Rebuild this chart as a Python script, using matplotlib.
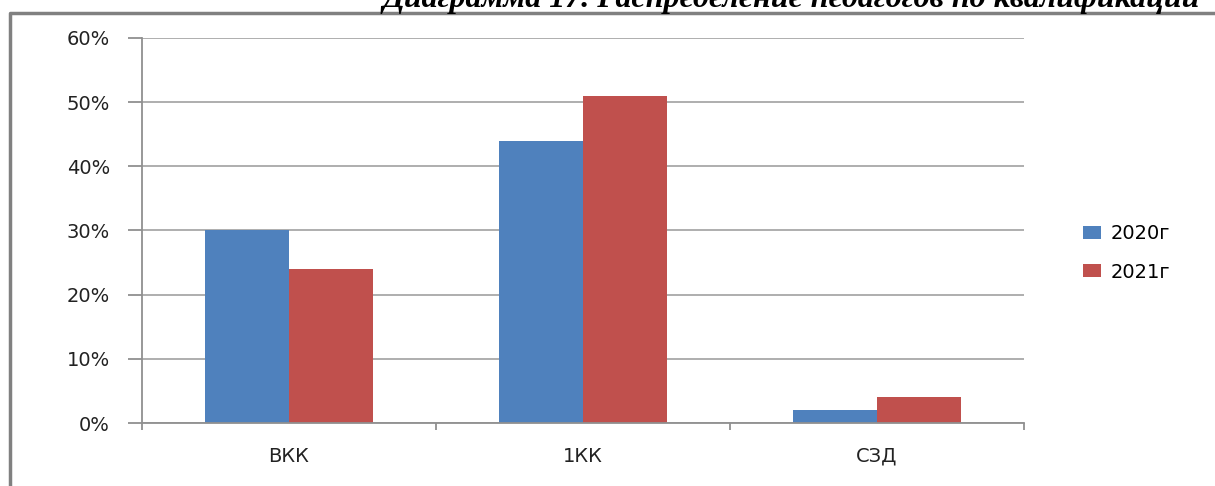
import matplotlib.pyplot as plt
from matplotlib.lines import Line2D
import numpy as np

categories = ['ВКК', '1КК', 'СЗД']
series_names = ['2020г', '2021г']
values_2020 = [0.30, 0.44, 0.02]
values_2021 = [0.24, 0.51, 0.04]
colors = ['#4F81BD', '#C0504D']
title = 'Диаграмма 17. Распределение педагогов по квалификации'

W, H = 1215, 486
fig = plt.figure(figsize=(W / 100, H / 100), dpi=100)
plt.rcParams['font.family'] = ['DejaVu Sans']

# axes box in pixels: left 142, right 1024, top 38, bottom 423
ax = fig.add_axes([142 / W, 1 - 423 / H, (1024 - 142) / W, (423 - 38) / H])

x = np.arange(len(categories))
bw = 0.286
ax.bar(x - bw / 2, values_2020, bw, color=colors[0], label=series_names[0])
ax.bar(x + bw / 2, values_2021, bw, color=colors[1], label=series_names[1])

ax.set_xlim(-0.5, len(categories) - 0.5)
ax.set_ylim(0, 0.6)
yt = np.arange(0, 0.61, 0.1)
ax.set_yticks(yt)
ax.set_yticklabels([f'{int(round(v * 100))}%' for v in yt], fontsize=14, color='#222222')
ax.yaxis.grid(True, color='#a8a8a8', linewidth=1.3)
ax.set_axisbelow(True)

ax.set_xticks(x)
ax.set_xticklabels(categories, fontsize=14, color='#222222')
ax.set_xticks(np.arange(-0.5, len(categories), 1), minor=True)
ax.tick_params(axis='x', which='major', length=0, pad=17)
ax.tick_params(axis='x', which='minor', length=5, color='#909090', width=1.3)
ax.tick_params(axis='y', length=10, color='#909090', width=1.3, pad=13)

for side in ['top', 'right']:
    ax.spines[side].set_visible(False)
for side in ['left', 'bottom']:
    ax.spines[side].set_color('#909090')
    ax.spines[side].set_linewidth(1.3)

ax.legend(loc='center left', bbox_to_anchor=(1083 / W, 1 - 253 / H),
          bbox_transform=fig.transFigure, frameon=False, fontsize=14,
          borderpad=0, borderaxespad=0,
          handlelength=0.9, handleheight=0.65, labelspacing=1.0, handletextpad=0.5)

# outer chart frame (left and top edges visible)
fig.add_artist(Line2D([10 / W, 10 / W, 1.0], [0, 1 - 13 / H, 1 - 13 / H],
                      transform=fig.transFigure, color='#808080', linewidth=2.5))

# title of the page, cut off by the top edge
fig.text(1200 / W, 1 - 7 / H, title, ha='right', va='baseline',
         fontsize=23, fontweight='bold', fontstyle='italic',
         family=['Liberation Serif'])

fig.savefig('out.png', dpi=100)
